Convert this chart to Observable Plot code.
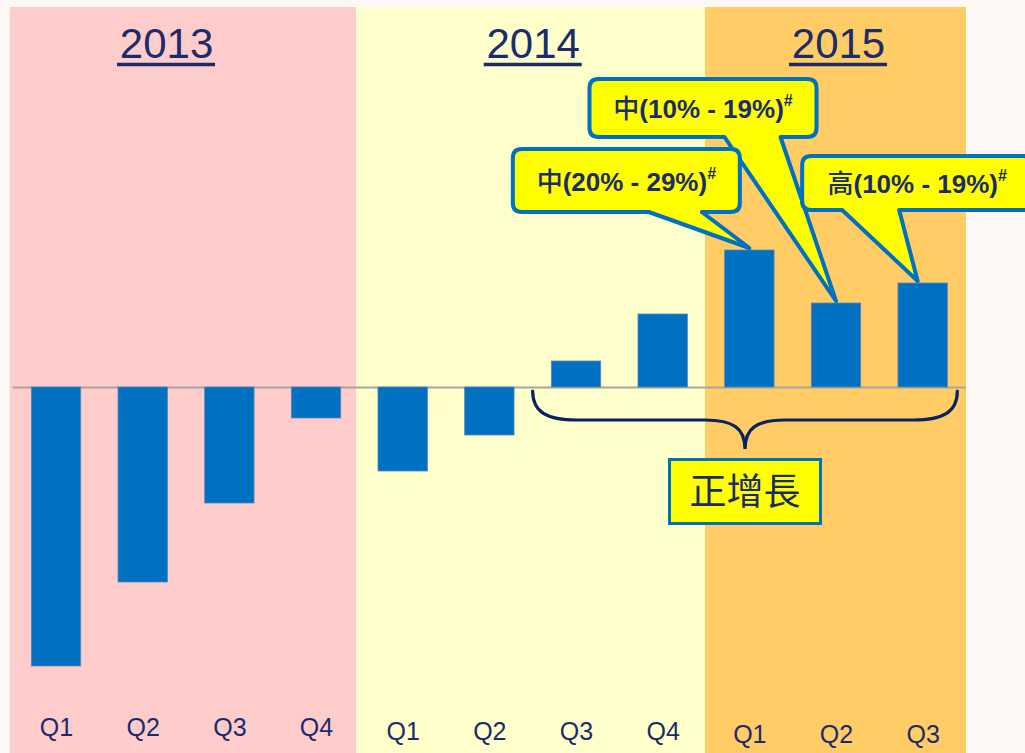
<!DOCTYPE html>
<html><head><meta charset="utf-8">
<script src="https://cdn.jsdelivr.net/npm/d3@7"></script>
<script src="https://cdn.jsdelivr.net/npm/@observablehq/plot@0.6"></script>
<style>
html,body{margin:0;padding:0;background:#fdf8f5;overflow:hidden;}
#chart{width:1025px;height:753px;}
svg{display:block;}
</style></head><body><div id="chart"></div>
<script>
// ---- data ----
const years = ["2013", "2014", "2015"];
const quarters = ["Q1","Q2","Q3","Q4","Q1","Q2","Q3","Q4","Q1","Q2","Q3"];
const quarterYears = ["2013","2013","2013","2013","2014","2014","2014","2014","2015","2015","2015"];
const growth = [-27.9, -19.5, -11.6, -3.1, -8.4, -4.8, 2.6, 7.3, 13.7, 8.4, 10.4];
const yearColors = ["#FFCCCC", "#FFFFCC", "#FFCC66"];
const calloutIndex = [9, 8, 10];
const calloutLevel = ["中", "中", "高"];
const calloutRange = ["(10% - 19%)", "(20% - 29%)", "(10% - 19%)"];
const braceFrom = 6, braceTo = 10;
const braceLabel = "正增長";

// ---- build ----
(function () {
const navy = "#1B2C6B";
const blue = "#0070C0";
const font = "'Liberation Sans', Arial, 'Noto Sans CJK TC', sans-serif";
const table = growth.map((v, i) => ({i, value: v, quarter: quarters[i], year: quarterYears[i]}));
const panels = years.map((yr, k) => {
  const idx = table.filter(d => d.year === yr).map(d => d.i);
  return {year: yr, x1: d3.min(idx) - 0.5, x2: d3.max(idx) + 0.5, fill: yearColors[k]};
});
const yMin = -36.6, yMax = 38.7;
const qDy = [-18, -14, -11];
const titleDx = [-20, 0, 2];
const panelInsets = [[-3, 3], [-3, 1], [-1, 0]];

const chart = Plot.plot({
  width: 1025, height: 753,
  marginLeft: 12.7, marginRight: 59, marginTop: 0, marginBottom: 0,
  x: {type: "linear", domain: [-0.5, 10.5], axis: null},
  y: {domain: [yMin, yMax], axis: null},
  color: {type: "identity"},
  style: {background: "transparent", overflow: "visible"},
  marks: [
    ...panels.map((p, k) => Plot.rect([p], {x1: "x1", x2: "x2", y1: yMin, y2: yMax, fill: "fill",
      insetTop: 7, insetLeft: panelInsets[k][0], insetRight: panelInsets[k][1]})),
    Plot.ruleY([0], {stroke: "#A6A6A6", strokeWidth: 2}),
    Plot.rect(table, {x1: d => d.i - 0.285, x2: d => d.i + 0.285, y1: 0, y2: "value",
      fill: blue, stroke: "#5b88b6", strokeWidth: 0.8}),
    ...years.map((yr, k) => Plot.text(table.filter(d => d.year === yr), {
      x: "i", y: yMin, text: "quarter", dy: qDy[k], lineAnchor: "bottom",
      fontSize: 25, fill: navy, fontFamily: font})),
    ...panels.map((p, k) => Plot.text([p], {
      x: d => (d.x1 + d.x2) / 2, y: yMax, text: "year", dy: 57, dx: titleDx[k],
      lineAnchor: "bottom", fontSize: 42, fill: navy, fontFamily: font}))
  ]
});
document.getElementById("chart").appendChild(chart);

const sx = chart.scale("x"), sy = chart.scale("y");
const X = v => sx.apply(v), Y = v => sy.apply(v);
const svg = d3.select(chart);
const g = svg.append("g");

// underlines for years
panels.forEach((p, k) => {
  const cx = X((p.x1 + p.x2) / 2) + titleDx[k];
  g.append("line").attr("x1", cx - 49).attr("x2", cx + 49).attr("y1", 64.5).attr("y2", 64.5)
    .attr("stroke", navy).attr("stroke-width", 3.5);
});

// brace
const y0 = Y(0);
const bL = X(braceFrom - 0.5), bR = X(braceTo + 0.4), bM = (bL + bR) / 2;
const bTop = y0 + 4, bMid = y0 + 33, bTip = y0 + 62;
g.append("path")
  .attr("d", `M${bL},${bTop} C${bL},${bMid - 8} ${bL + 14},${bMid} ${bL + 44},${bMid} H${bM - 40} C${bM - 12},${bMid} ${bM},${bMid + 8} ${bM},${bTip} C${bM},${bMid + 8} ${bM + 12},${bMid} ${bM + 40},${bMid} H${bR - 44} C${bR - 14},${bMid} ${bR},${bMid - 8} ${bR},${bTop}`)
  .attr("fill", "none").attr("stroke", "#0B2260").attr("stroke-width", 3.2).attr("stroke-linecap", "round");

// label box under brace
const lbW = 154, lbH = 67, lbTop = y0 + 71;
g.append("rect").attr("x", bM - lbW / 2 + 1.5).attr("y", lbTop + 1.5).attr("width", lbW - 3).attr("height", lbH - 3)
  .attr("fill", "#FFFF00").attr("stroke", blue).attr("stroke-width", 3);
g.append("text").attr("x", bM).attr("y", lbTop + lbH / 2 + 13).attr("text-anchor", "middle")
  .attr("font-family", "'Noto Sans CJK TC', sans-serif").attr("font-size", 37).attr("fill", navy)
  .text(braceLabel);

// callouts (box geometry relative to the bar top it points at)
const calloutLayout = [
  {dx: -248.5, dy: -226, w: 231, h: 62, b1: 135, b2: 191, tdx: 0},
  {dx: -238.5, dy: -103, w: 231, h: 67, b1: 136, b2: 189, tdx: 0},
  {dx: -122.5, dy: -129, w: 234, h: 58, b1: 40, b2: 97, tdx: -5}
];
function calloutPath(L, T, W, H, r, b1, b2, tx, ty) {
  const R = L + W, B = T + H;
  return `M${L + r},${T}H${R - r}Q${R},${T} ${R},${T + r}V${B - r}Q${R},${B} ${R - r},${B}H${L + b2}L${tx},${ty}L${L + b1},${B}H${L + r}Q${L},${B} ${L},${B - r}V${T + r}Q${L},${T} ${L + r},${T}Z`;
}
calloutIndex.forEach((ci, k) => {
  const lay = calloutLayout[k];
  const tx = X(ci) + lay.tdx, ty = Y(growth[ci]);
  const L = X(ci) + lay.dx + 2, T = ty + lay.dy + 2, W = lay.w - 4, H = lay.h - 4;
  g.append("path").attr("d", calloutPath(L, T, W, H, 9, lay.b1, lay.b2, tx, ty - 2))
    .attr("fill", "#FFFF00").attr("stroke", blue).attr("stroke-width", 4).attr("stroke-linejoin", "round");
  const t = g.append("text").attr("x", L + W / 2).attr("y", T + H / 2 + 10).attr("text-anchor", "middle")
    .attr("font-family", font).attr("font-size", 26).attr("font-weight", "bold").attr("fill", navy);
  t.append("tspan").attr("font-family", "'Noto Sans CJK TC', sans-serif").attr("font-weight", "500").text(calloutLevel[k]);
  t.append("tspan").text(calloutRange[k]);
  t.append("tspan").attr("font-size", 16).attr("dy", -12).text("#");
});
})();
</script>
</body></html>
